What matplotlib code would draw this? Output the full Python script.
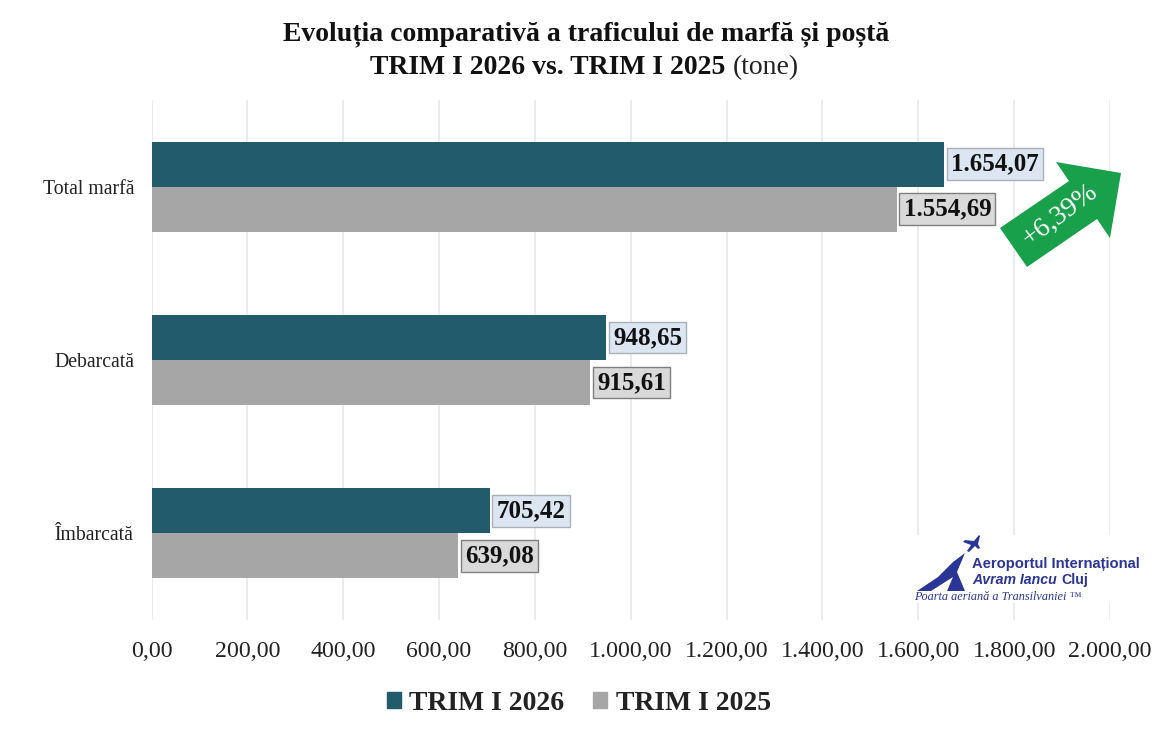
import matplotlib
matplotlib.use("Agg")
import matplotlib.pyplot as plt
from matplotlib.patches import Polygon, Patch
from matplotlib.ticker import FuncFormatter

W, H = 1167, 736

categories = ["Îmbarcată", "Debarcată", "Total marfă"]
trim_2026 = [705.42, 948.65, 1654.07]
trim_2025 = [639.08, 915.61, 1554.69]
series_names = ["TRIM I 2026", "TRIM I 2025"]
x_ticks = [0, 200, 400, 600, 800, 1000, 1200, 1400, 1600, 1800, 2000]
growth_label = "+6,39%"

TEAL = "#225B6B"
GREY = "#A6A6A6"

plt.rcParams["font.family"] = ["Liberation Serif", "DejaVu Serif"]


def fmt_ro(v, pos=None):
    # romanian number format: 1.654,07
    return f"{v:,.2f}".replace(",", "#").replace(".", ",").replace("#", ".")


def px(x, y):
    # reference pixels -> figure fraction
    return x / W, 1 - y / H


fig = plt.figure(figsize=(W / 100, H / 100), dpi=100)
ax = fig.add_axes([151.5 / W, 1 - 620 / H, (1110 - 151.5) / W, 520 / H])

bar_h = 0.26
ypos = list(range(len(categories)))
ax.barh([y + bar_h / 2 for y in ypos], trim_2026, height=bar_h, color=TEAL, zorder=3)
ax.barh([y - bar_h / 2 for y in ypos], trim_2025, height=bar_h, color=GREY, zorder=3)

ax.set_xlim(0, 2000)
ax.set_ylim(-0.5, 2.5)
ax.set_xticks(x_ticks)
ax.xaxis.set_major_formatter(FuncFormatter(fmt_ro))
ax.set_yticks(ypos)
ax.set_yticklabels(categories, fontsize=14.2, color="#222222")
ax.tick_params(axis="x", length=0, labelsize=17.2, pad=15, colors="#222222")
ax.tick_params(axis="y", length=0, pad=12.5)
ax.grid(axis="x", color="#E8E8E8", linewidth=1.2, zorder=0)
ax.set_axisbelow(True)
for s in ax.spines.values():
    s.set_visible(False)

# value labels
for y, v26, v25 in zip(ypos, trim_2026, trim_2025):
    ax.annotate(fmt_ro(v26), (v26, y + bar_h / 2), xytext=(7, 0), textcoords="offset pixels",
                ha="left", va="center", fontsize=18, fontweight="bold", color="#111111", zorder=5,
                bbox=dict(boxstyle="square,pad=0.17", fc="#DCE6F2", ec="#A9B0B8", lw=1))
    ax.annotate(fmt_ro(v25), (v25, y - bar_h / 2), xytext=(7, 0), textcoords="offset pixels",
                ha="left", va="center", fontsize=18, fontweight="bold", color="#111111", zorder=5,
                bbox=dict(boxstyle="square,pad=0.17", fc="#D9D9D9", ec="#7F7F7F", lw=1))

# title
fig.text(586 / W, 1 - 34 / H, "Evoluția comparativă a traficului de marfă și poștă",
         ha="center", va="center", fontsize=20, fontweight="bold", color="#111111")
fig.text(370 / W, 1 - 68 / H, "TRIM I 2026 vs. TRIM I 2025", ha="left", va="center",
         fontsize=20, fontweight="bold", color="#111111")
fig.text(733 / W, 1 - 68 / H, "(tone)", ha="left", va="center", fontsize=20, color="#222222")

# growth arrow
arrow = [(1000, 228), (1069, 181), (1056, 162), (1121, 173), (1110, 238), (1097, 219), (1027, 267)]
fig.add_artist(Polygon([px(*p) for p in arrow], closed=True, transform=fig.transFigure,
                       fc="#18A04A", ec="none", zorder=6))
fig.text(1060 / W, 1 - 215 / H, growth_label, rotation=37, rotation_mode="anchor", ha="center", va="center",
         fontsize=20, color="white", zorder=7)

# logo
logo_bg = [(912, 535), (1145, 535), (1145, 603), (912, 603)]
fig.add_artist(Polygon([px(*p) for p in logo_bg], closed=True, transform=fig.transFigure, fc="white", ec="none", zorder=4))
BLUE = "#2B3595"
swoosh = [(917, 591), (938, 577), (953, 562), (965, 553), (957, 572), (965, 591), (947, 591), (953, 577), (931, 591)]
plane = [(967, 551), (971, 545), (963, 542), (965, 540), (974, 541), (979, 535), (980, 536), (978, 544),
         (980, 548), (978, 549), (975, 546), (969, 552)]
for pts in (swoosh, plane):
    fig.add_artist(Polygon([px(*p) for p in pts], closed=True, transform=fig.transFigure, fc=BLUE, ec="none", zorder=5))
fig.text(972 / W, 1 - 564 / H, "Aeroportul Internațional", fontsize=10.6, color=BLUE, fontweight="bold",
         family=["Liberation Sans", "DejaVu Sans"], va="center", zorder=6)
fig.text(972 / W, 1 - 580 / H, "Avram Iancu", fontsize=10.2, color=BLUE, style="italic", fontweight="bold",
         family=["Liberation Sans", "DejaVu Sans"], va="center", zorder=6)
fig.text(1061 / W, 1 - 580 / H, "Cluj", fontsize=10.2, color=BLUE, fontweight="bold",
         family=["Liberation Sans", "DejaVu Sans"], va="center", zorder=6)
fig.text(914 / W, 1 - 597 / H, "Poarta aeriană a Transilvaniei ™", fontsize=8.8, color=BLUE, style="italic",
         va="center", zorder=6)

# legend
handles = [Patch(color=TEAL, label=series_names[0]), Patch(color=GREY, label=series_names[1])]
fig.legend(handles=handles, loc="center", bbox_to_anchor=(579 / W, 1 - 703 / H), ncol=2, frameon=False,
           prop={"size": 20, "weight": "bold"}, handlelength=0.5, handleheight=0.5,
           handletextpad=0.3, columnspacing=1.04, labelcolor="#222222")

fig.savefig("out.png", dpi=100)
